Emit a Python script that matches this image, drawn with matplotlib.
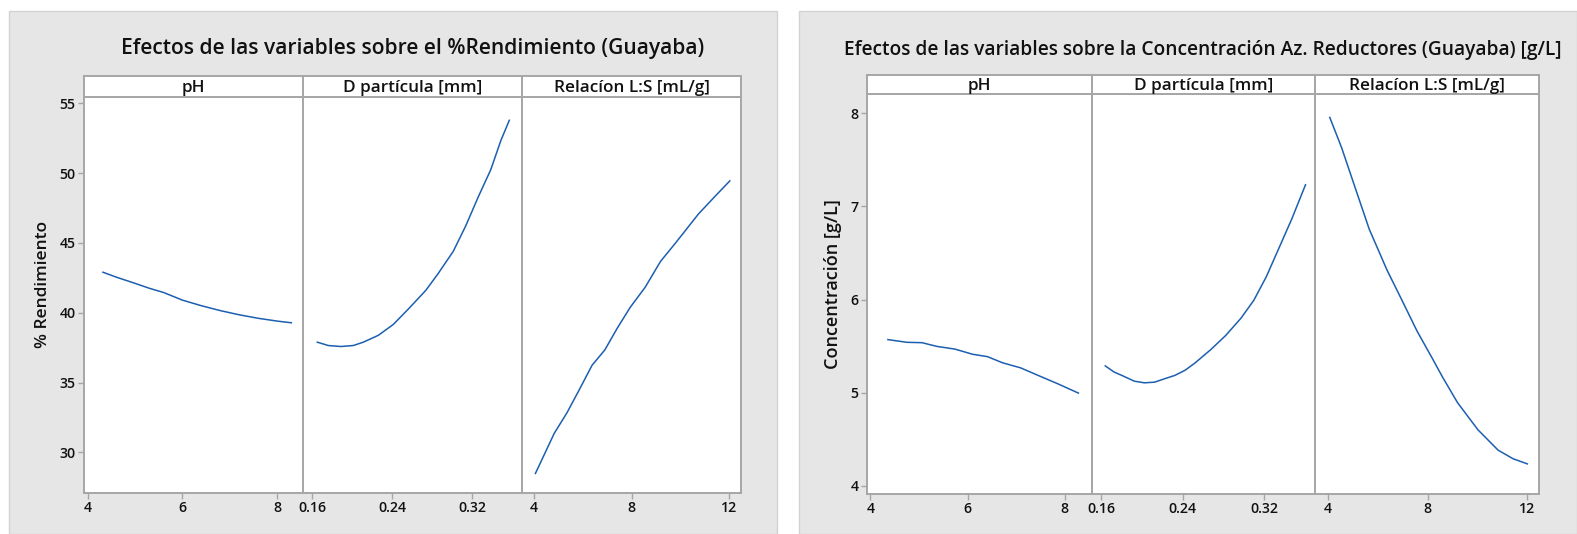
import matplotlib
matplotlib.use('Agg')
import matplotlib.pyplot as plt
from matplotlib.patches import Rectangle

W, H = 1577, 534
plt.rcParams['font.family'] = ['Open Sans', 'DejaVu Sans']

# ---------------- data ----------------
factors = ['pH', 'D partícula [mm]', 'Relacíon L:S [mL/g]']

# Chart 1: %Rendimiento
rend_ph_x = [4.32, 4.6, 5.0, 5.3, 5.6, 6.0, 6.4, 6.8, 7.2, 7.6, 8.0, 8.3]
rend_ph_y = [42.9, 42.55, 42.1, 41.75, 41.45, 40.9, 40.5, 40.15, 39.85, 39.6, 39.4, 39.28]
rend_d_x = [0.165, 0.176, 0.1885, 0.201, 0.211, 0.226, 0.241, 0.256, 0.2735, 0.286,
            0.301, 0.3135, 0.326, 0.3385, 0.3485, 0.357]
rend_d_y = [37.89, 37.65, 37.58, 37.65, 37.89, 38.38, 39.16, 40.26, 41.6, 42.82,
            44.4, 46.23, 48.3, 50.25, 52.32, 53.78]
rend_ls_x = [4.06, 4.83, 5.35, 5.87, 6.38, 6.9, 7.42, 7.94, 8.56, 9.18, 9.8, 10.74, 11.46, 12.02]
rend_ls_y = [28.49, 31.36, 32.83, 34.53, 36.24, 37.33, 38.92, 40.38, 41.84, 43.67, 45.0, 47.08, 48.42, 49.44]

# Chart 2: Concentración [g/L]
conc_ph_x = [4.36, 4.75, 5.06, 5.37, 5.74, 6.10, 6.41, 6.72, 7.09, 7.45, 7.86, 8.28]
conc_ph_y = [5.571, 5.542, 5.538, 5.498, 5.469, 5.414, 5.388, 5.322, 5.268, 5.187, 5.096, 4.997]
conc_d_x = [0.164, 0.1725, 0.1824, 0.1924, 0.2024, 0.2123, 0.2223, 0.2323, 0.2423, 0.2522,
            0.2672, 0.2821, 0.2971, 0.3096, 0.322, 0.3345, 0.347, 0.3604]
conc_d_y = [5.289, 5.224, 5.176, 5.125, 5.107, 5.114, 5.151, 5.187, 5.242, 5.322,
            5.461, 5.615, 5.801, 5.991, 6.247, 6.557, 6.868, 7.233]
conc_ls_x = [4.08, 4.55, 5.15, 5.66, 6.37, 6.98, 7.58, 8.19, 8.6, 9.2, 10.02, 10.83, 11.43, 12.0]
conc_ls_y = [7.956, 7.635, 7.16, 6.758, 6.32, 5.99, 5.662, 5.37, 5.169, 4.895, 4.603, 4.384, 4.292, 4.237]

xticks_ph = [4, 6, 8]
xticks_d = [0.16, 0.24, 0.32]
xticks_ls = [4, 8, 12]
xticklabels_ph = ['4', '6', '8']
xticklabels_d = ['0.16', '0.24', '0.32']
xticklabels_ls = ['4', '8', '12']
yticks_rend = [30, 35, 40, 45, 50, 55]
yticklabels_rend = ['30', '35', '40', '45', '50', '55']
yticks_conc = [4, 5, 6, 7, 8]
yticklabels_conc = ['4', '5', '6', '7', '8']

title_rend = 'Efectos de las variables sobre el %Rendimiento (Guayaba)'
title_conc = 'Efectos de las variables sobre la Concentración Az. Reductores (Guayaba) [g/L]'
ylabel_rend = '% Rendimiento'
ylabel_conc = 'Concentración [g/L]'

# ---------------- layout ----------------
LINE = '#1c5fb0'
SPINE = '#a6a6a6'
BG = '#e6e6e6'
TXT = '#111111'

fig = plt.figure(figsize=(W / 100, H / 100), dpi=100)
fig.patch.set_facecolor('white')


def fx(px):
    return px / W


def fy(py):
    return 1 - py / H


for x0, x1 in [(9, 777), (799, 1577)]:
    fig.add_artist(Rectangle((fx(x0), 0), fx(x1) - fx(x0), fy(11),
                             transform=fig.transFigure, facecolor=BG,
                             edgecolor='#d2d2d2', lw=1.0, zorder=-10))


def chart(edges, strip_top, strip_bot, plot_bot, series, xlims, xticks, xtlabels,
          ylim, yticks, ytlabels, title, title_y, title_fs, ylabel, ylabel_x, ylabel_fs):
    for i in range(3):
        x0, x1 = edges[i], edges[i + 1]
        ax = fig.add_axes([fx(x0), fy(plot_bot), fx(x1) - fx(x0), fy(strip_bot) - fy(plot_bot)])
        ax.set_facecolor('white')
        xs, ys = series[i]
        ax.plot(xs, ys, color=LINE, lw=1.1, solid_joinstyle='round')
        ax.set_xlim(*xlims[i])
        ax.set_ylim(*ylim)
        ax.set_xticks(xticks[i])
        ax.set_xticklabels(xtlabels[i], fontweight='semibold', fontsize=10.2, color=TXT)
        for s in ax.spines.values():
            s.set_color(SPINE)
            s.set_linewidth(1.4)
        ax.tick_params(axis='x', length=4, width=1, color=SPINE, pad=2)
        if i == 0:
            ax.set_yticks(yticks)
            ax.set_yticklabels(ytlabels, fontweight='semibold', fontsize=10.2, color=TXT)
            ax.tick_params(axis='y', length=4, width=1, color=SPINE, pad=2)
        else:
            ax.set_yticks([])
        # strip
        sax = fig.add_axes([fx(x0), fy(strip_bot), fx(x1) - fx(x0), fy(strip_top) - fy(strip_bot)])
        sax.set_facecolor('white')
        sax.set_xticks([])
        sax.set_yticks([])
        for s in sax.spines.values():
            s.set_color(SPINE)
            s.set_linewidth(1.4)
        sax.text(0.5, 0.42, factors[i], ha='center', va='center', fontsize=12.3,
                 color=TXT, fontweight='semibold', transform=sax.transAxes)
    cx = (edges[0] + edges[-1]) / 2
    fig.text(fx(cx), fy(title_y), title, ha='center', va='center',
             fontsize=title_fs, color=TXT, fontweight='semibold')
    fig.text(fx(ylabel_x), fy((strip_top + plot_bot) / 2), ylabel, rotation=90,
             ha='center', va='center', fontsize=ylabel_fs, color=TXT, fontweight='semibold')


chart([84, 302.7, 522, 741.3], 76, 96.7, 492.7,
      [(rend_ph_x, rend_ph_y), (rend_d_x, rend_d_y), (rend_ls_x, rend_ls_y)],
      [(3.92, 8.54), (0.1504, 0.3697), (3.51, 12.49)],
      [xticks_ph, xticks_d, xticks_ls], [xticklabels_ph, xticklabels_d, xticklabels_ls],
      (27.11, 55.47), yticks_rend, yticklabels_rend, title_rend, 48.5, 15.15, ylabel_rend, 43, 12.5)

chart([867, 1091.5, 1315.3, 1539.3], 75, 94.3, 493.7,
      [(conc_ph_x, conc_ph_y), (conc_d_x, conc_d_y), (conc_ls_x, conc_ls_y)],
      [(3.93, 8.55), (0.1505, 0.370), (3.50, 12.48)],
      [xticks_ph, xticks_d, xticks_ls], [xticklabels_ph, xticklabels_d, xticklabels_ls],
      (3.917, 8.204), yticks_conc, yticklabels_conc, title_conc, 50.5, 13.8, ylabel_conc, 833, 13)

fig.savefig('out.png', dpi=100, facecolor='white')
